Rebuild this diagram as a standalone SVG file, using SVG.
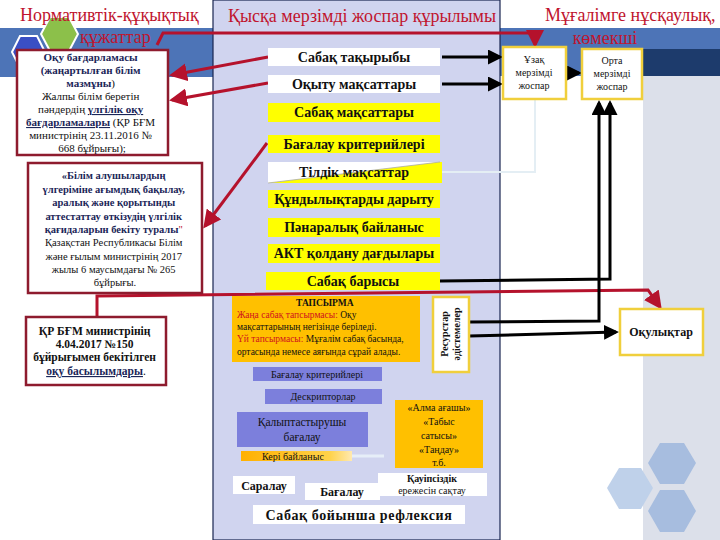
<svg xmlns="http://www.w3.org/2000/svg" width="720" height="540" viewBox="0 0 720 540">
<style>
.title{font-family:"Liberation Serif",serif;font-size:18px;fill:#c0142e}
.t{font-family:"Liberation Serif",serif;fill:#111}
.b{font-weight:bold}
.nv{fill:#1b2658;font-weight:bold}
.box{fill:#fff;stroke:#8e1b2e;stroke-width:2.5}
.yb{fill:#ffff00}
.wb{fill:#fff}
.cb{font-family:"Liberation Serif",serif;font-size:14px;font-weight:bold;fill:#111;text-anchor:middle}
.gb{fill:#fff;stroke:#f0cf3c;stroke-width:2.5}
.pb{fill:#7c7fdc}
.red{fill:none;stroke:#b5122c;stroke-width:3}
.blk{fill:none;stroke:#000;stroke-width:3}
</style>
<defs>
<marker id="ar" markerWidth="6" markerHeight="6" refX="5" refY="3" orient="auto" markerUnits="strokeWidth"><path d="M0,0 L6,3 L0,6 z" fill="#b5122c"/></marker>
<marker id="ab" markerWidth="5" markerHeight="5" refX="4" refY="2.5" orient="auto" markerUnits="strokeWidth"><path d="M0,0 L5,2.5 L0,5 z" fill="#000"/></marker>
<linearGradient id="kb" x1="0" y1="0" x2="1" y2="0"><stop offset="0" stop-color="#ffb000"/><stop offset="0.8" stop-color="#ffd24a"/><stop offset="1" stop-color="#ffe9b0"/></linearGradient>
</defs>
<!-- backgrounds -->
<rect x="0" y="0" width="720" height="540" fill="#fff"/>
<rect x="0" y="28" width="213" height="49" fill="#4d74b7"/>
<rect x="500" y="28" width="220" height="48" fill="#4d74b7"/>
<rect x="643" y="49" width="77" height="27" fill="#1d3b6c"/>
<rect x="643" y="76" width="77" height="464" fill="#dce0ea"/>
<rect x="213" y="0" width="287" height="540" fill="#d0d4ef" stroke="#1a2550" stroke-width="1.2"/>
<g id="hexes">
<polygon points="41,34 50,17 69,17 78,34 69,51 50,51" fill="#8cc04a" stroke="#fff" stroke-width="2"/>
<polygon points="12,52 20,36 37,36 45,52 37,68 20,68" fill="#3a4fc4" stroke="#fff" stroke-width="2"/>
<polygon points="648,463 660,443 684,443 696,463 684,484 660,484" fill="#a7bddf"/>
<polygon points="648,511 660,490 684,490 696,511 684,532 660,532" fill="#a7bddf"/>
<polygon points="607,488 619,468 641,468 653,488 641,509 619,509" fill="#bfd1ea"/>
</g>
<!-- headers -->
<text class="title" x="20" y="21">Нормативтік-құқықтық</text>
<text class="title" x="80" y="43">құжаттар</text>
<text class="title" x="228" y="22" font-size="17">Қысқа мерзімді жоспар құрылымы</text>
<text class="title" x="545" y="21" font-size="17.5">Мұғалімге нұсқаулық,</text>
<text class="title" x="605" y="44" text-anchor="middle">көмекші</text>
<!-- connectors -->
<g id="connectors">
<polyline class="red" points="157,45 163,33 535,33 535,45" marker-end="url(#ar)"/>
<line class="red" x1="268" y1="57" x2="172" y2="75" marker-end="url(#ar)"/>
<line class="red" x1="268" y1="83" x2="172" y2="100" marker-end="url(#ar)"/>
<line class="red" x1="267" y1="143" x2="205" y2="226" marker-end="url(#ar)"/>
<polyline class="red" points="97,317 97,296 648,290 660,307" marker-end="url(#ar)"/>
<line class="blk" x1="442" y1="57" x2="500" y2="57" marker-end="url(#ab)"/>
<line class="blk" x1="442" y1="84" x2="500" y2="84" marker-end="url(#ab)"/>
<line class="blk" x1="566" y1="73" x2="579" y2="73" marker-end="url(#ab)"/>
<polyline class="blk" points="440,281 610,279 610,103" marker-end="url(#ab)"/>
<polyline class="blk" points="469,322 599,321 599,103" marker-end="url(#ab)"/>
<polyline class="blk" points="469,336 616,332" marker-end="url(#ab)"/>
<polyline points="442,172 535,172 535,100" fill="none" stroke="#e4eef4" stroke-width="2"/>
<line x1="352" y1="456" x2="384" y2="456" stroke="#e6eef8" stroke-width="3"/>
</g>
<!-- left boxes -->
<g id="doc1">
<rect class="box" x="17" y="50" width="151" height="105"/>
<text class="t" font-size="11" text-anchor="middle">
<tspan x="92" y="61" class="nv">Оқу бағдарламасы</tspan>
<tspan x="92" y="74" class="nv">(жаңартылған білім</tspan>
<tspan x="92" y="87"><tspan class="nv">мазмұны</tspan>)</tspan>
<tspan x="92" y="100">Жалпы білім беретін</tspan>
<tspan x="92" y="113">пәндердің <tspan class="nv" text-decoration="underline">үлгілік оқу</tspan></tspan>
<tspan x="92" y="126"><tspan class="nv" text-decoration="underline">бағдарламалары</tspan> (ҚР БҒМ</tspan>
<tspan x="92" y="139">министрінің 23.11.2016 №</tspan>
<tspan x="92" y="152">668 бұйрығы);</tspan>
</text>
</g>
<g id="doc2">
<rect class="box" x="28" y="163" width="174" height="130"/>
<text class="t" font-size="10.5" text-anchor="middle">
<tspan x="115" y="179" class="nv">«Білім алушылардың</tspan>
<tspan x="115" y="193" class="nv">үлгеріміне ағымдық бақылау,</tspan>
<tspan x="115" y="206" class="nv">аралық және қорытынды</tspan>
<tspan x="115" y="220" class="nv">аттестаттау өткізудің үлгілік</tspan>
<tspan x="115" y="233"><tspan class="nv">қағидаларын бекіту туралы</tspan><tspan fill="#c0142e">"</tspan></tspan>
<tspan x="115" y="246">Қазақстан Республикасы Білім</tspan>
<tspan x="115" y="260">және ғылым министрінің 2017</tspan>
<tspan x="115" y="273">жылы 6 маусымдағы № 265</tspan>
<tspan x="115" y="286">бұйрығы.</tspan>
</text>
</g>
<g id="doc3">
<rect class="box" x="26" y="317" width="140" height="68"/>
<text class="t b" font-size="11.5" text-anchor="middle" fill="#222">
<tspan x="96" y="335">ҚР БҒМ министрінің</tspan>
<tspan x="96" y="348">4.04.2017 №150</tspan>
<tspan x="96" y="361">бұйрығымен бекітілген</tspan>
<tspan x="96" y="375"><tspan fill="#1b2658" text-decoration="underline">оқу басылымдары</tspan><tspan font-weight="normal">.</tspan></tspan>
</text>
</g>
<!-- center boxes -->
<g id="n-taqyryp"><rect class="wb" x="268" y="48" width="172" height="18"/><text class="cb" x="354" y="62">Сабақ тақырыбы</text></g>
<g id="n-oqytu"><rect class="wb" x="268" y="75" width="172" height="18"/><text class="cb" x="354" y="89">Оқыту мақсаттары</text></g>
<g id="n-sabaq"><rect class="yb" x="268" y="103" width="172" height="19"/><text class="cb" x="354" y="117">Сабақ мақсаттары</text></g>
<g id="n-bagalau"><rect class="yb" x="268" y="135" width="172" height="18"/><text class="cb" x="354" y="149">Бағалау критерийлері</text></g>
<g id="n-tildik"><rect class="yb" x="268" y="162" width="174" height="21"/><polygon points="268,162 440,162 268,183" fill="#fff"/><line x1="268" y1="183" x2="440" y2="162" stroke="#aaa" stroke-width="0.8"/><text class="cb" x="354" y="177" font-size="12.5">Тілдік мақсаттар</text></g>
<g id="n-qund"><rect class="yb" x="268" y="190" width="172" height="18"/><text class="cb" x="354" y="204">Құндылықтарды дарыту</text></g>
<g id="n-panaral"><rect class="yb" x="268" y="218" width="172" height="19"/><text class="cb" x="354" y="232">Пәнаралық байланыс</text></g>
<g id="n-akt"><rect class="yb" x="268" y="244" width="172" height="19"/><text class="cb" x="354" y="258">АКТ қолдану дағдылары</text></g>
<g id="n-barysy"><rect class="yb" x="266" y="272" width="174" height="18"/><text class="cb" x="353" y="286">Сабақ барысы</text></g>
<!-- right boxes -->
<g id="n-uzaq"><rect class="gb" x="503" y="47" width="63" height="52"/>
<text class="t" font-size="10" text-anchor="middle"><tspan x="534" y="63">Ұзақ</tspan><tspan x="534" y="76">мерзімді</tspan><tspan x="534" y="89">жоспар</tspan></text></g>
<g id="n-orta"><rect class="gb" x="582" y="49" width="60" height="50"/>
<text class="t" font-size="10" text-anchor="middle"><tspan x="612" y="64">Орта</tspan><tspan x="612" y="77">мерзімді</tspan><tspan x="612" y="90">жоспар</tspan></text></g>
<g id="n-oqulyq"><rect class="gb" x="620" y="309" width="83" height="46"/><text class="t b" font-size="12" x="661" y="336" text-anchor="middle">Оқулықтар</text></g>
<!-- lesson course -->
<g id="n-tapsyrma"><rect x="232" y="296" width="188" height="66" fill="#ffc000"/>
<text class="t" font-size="9.5"><tspan x="326" y="306" text-anchor="middle" font-weight="bold">ТАПСЫРМА</tspan>
<tspan x="237" y="318"><tspan fill="#d0101e">Жаңа сабақ тапсырмасы:</tspan> Оқу</tspan>
<tspan x="237" y="330">мақсаттарының негізінде беріледі.</tspan>
<tspan x="237" y="342"><tspan fill="#d0101e">Үй тапсырмасы:</tspan> Мұғалім сабақ басында,</tspan>
<tspan x="237" y="355">ортасында немесе аяғында сұрай алады.</tspan></text></g>
<g id="n-resurs"><rect class="gb" x="433" y="297" width="36" height="75"/>
<text class="t b" font-size="10" text-anchor="middle" transform="translate(451,334) rotate(-90)"><tspan x="0" y="-3">Ресурстар</tspan><tspan x="0" y="9">әдістемелер</tspan></text></g>
<g id="n-bk"><rect class="pb" x="253" y="367" width="129" height="14"/><text class="t" font-size="10" x="317" y="378" text-anchor="middle">Бағалау критерийлері</text></g>
<g id="n-desk"><rect class="pb" x="265" y="389" width="117" height="15"/><text class="t" font-size="10" x="323" y="400" text-anchor="middle">Дескрипторлар</text></g>
<g id="n-qalyp"><rect class="pb" x="237" y="412" width="131" height="35"/><text class="t" font-size="11.5" text-anchor="middle"><tspan x="302" y="426">Қалыптастырушы</tspan><tspan x="302" y="441">бағалау</tspan></text></g>
<g id="n-keri"><rect x="241" y="451" width="111" height="10" fill="url(#kb)"/><text class="t" font-size="10" x="262" y="460" fill="#d0101e">Кері байланыс</text></g>
<g id="n-alma"><rect x="395" y="400" width="88" height="68" fill="#ffc000"/>
<text class="t" font-size="10" text-anchor="middle"><tspan x="439" y="411">«Алма ағашы»</tspan><tspan x="439" y="425">«Табыс</tspan><tspan x="439" y="439">сатысы»</tspan><tspan x="439" y="453">«Таңдау»</tspan><tspan x="439" y="466">т.б.</tspan></text></g>
<g id="n-saralau"><rect class="wb" x="233" y="476" width="62" height="18"/><text class="t b" font-size="12" x="264" y="490" text-anchor="middle">Саралау</text></g>
<g id="n-bagalau2"><rect class="wb" x="305" y="483" width="75" height="17"/><text class="t b" font-size="12" x="342" y="496" text-anchor="middle">Бағалау</text></g>
<g id="n-qauip"><rect class="wb" x="378" y="473" width="109" height="23"/><text class="t" font-size="10" text-anchor="middle"><tspan x="432" y="482" font-weight="bold">Қауіпсіздік</tspan><tspan x="432" y="494">ережесін сақтау</tspan></text></g>
<g id="n-refl"><rect class="wb" x="253" y="505" width="212" height="19"/><text class="cb" x="359" y="520" letter-spacing="0.6">Сабақ бойынша рефлексия</text></g>
</svg>
